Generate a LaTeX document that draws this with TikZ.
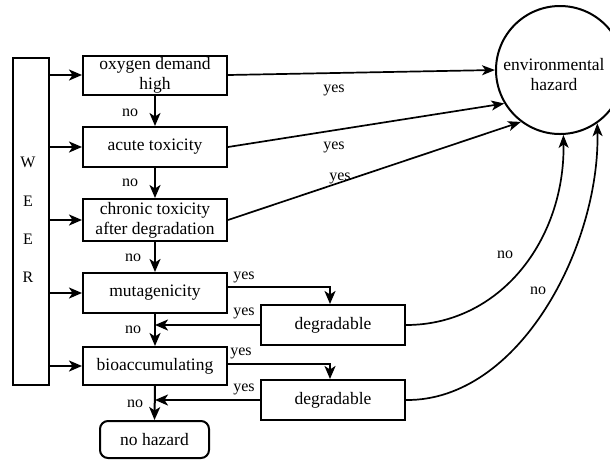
\documentclass[tikz,border=0pt]{standalone}
\usepackage{fontspec}
\setmainfont{Liberation Serif}
\usetikzlibrary{arrows.meta}
\begin{document}
\begin{tikzpicture}[x=1pt,y=-1pt,
  font=\fontsize{17.5}{20}\selectfont,
  line width=2pt,
  stepbox/.style={draw, minimum width=144pt, minimum height=40pt, align=center, inner sep=0pt},
  lbl/.style={font=\fontsize{16}{18}\selectfont, inner sep=0pt},
  letter/.style={font=\fontsize{16}{18}\selectfont, inner sep=0pt},
  arr/.style={-{Stealth[length=13pt,width=11pt,inset=3.5pt]}},
  thinarr/.style={line width=1.7pt,-{Stealth[length=13pt,width=10pt,inset=3.5pt]}}]
\useasboundingbox (0,0) rectangle (610,459);
\clip (0,0) rectangle (610,459);

% input column
\node[draw, minimum width=36pt, minimum height=327pt, inner sep=0pt] (weer) at (31,221.5) {};
\node[letter] (lw) at (28,162) {W};
\node[letter] (le1) at (28,201) {E};
\node[letter] (le2) at (28,239) {E};
\node[letter] (lr) at (28,277) {R};

% test boxes
\node[stepbox, minimum height=39pt] (b1) at (155,75) {oxygen demand\\high};
\node[stepbox] (b2) at (155,147) {acute toxicity};
\node[stepbox, minimum height=42pt] (b3) at (155,220) {chronic toxicity\\after degradation};
\node[stepbox] (b4) at (155,293) {mutagenicity};
\node[stepbox, minimum height=38pt] (b5) at (155,366) {bioaccumulating};
\node[stepbox] (d1) at (333,325) {degradable};
\node[stepbox] (d2) at (333,400) {degradable};
\node[draw, rounded corners=8pt, minimum width=109pt, minimum height=37pt, inner sep=0pt] (nh) at (154.5,439.5) {no hazard};

% hazard circle
\node[draw, circle, minimum size=128pt, inner sep=0pt] (hz) at (560,70) {};
\node[align=center, inner sep=0pt] (hzt) at (554,75) {environmental\\hazard};

% inputs into each test
\foreach \b in {b1,b2,b3,b4,b5}
  \draw[arr] (weer.east |- \b.west) -- (\b.west);

% "no" chain
\draw[arr] (b1.south) -- (b2.north);
\draw[arr] (b2.south) -- (b3.north);
\draw[arr] (b3.south) -- (b4.north);
\draw[arr] (b4.south) -- (b5.north);
\draw[arr] (b5.south) -- (nh.north);
\node[lbl] (n1) at (130,113) {no};
\node[lbl] (n2) at (130,183) {no};
\node[lbl] (n3) at (133,258) {no};
\node[lbl] (n4) at (133,330) {no};
\node[lbl] (n5) at (135,404) {no};

% direct hazards
\draw[thinarr] (b1.east) -- (hz.180);
\draw[thinarr] (b2.east) -- (hz.211);
\draw[thinarr] (b3.east) -- (hz.233);
\node[lbl] (y1) at (334,90) {yes};
\node[lbl] (y2) at (334,147) {yes};
\node[lbl] (y3) at (340,178) {yes};

% degradability checks
\draw[arr] ([yshift=6pt]b4.east) -| ([xshift=-3pt]d1.north);
\draw[arr] (d1.west) -- (d1.west -| b4.south);
\draw[arr] ([yshift=2pt]b5.east) -| ([xshift=-3pt]d2.north);
\draw[arr] (d2.west) -- (d2.west -| b5.south);
\node[lbl] (y4) at (244,277) {yes};
\node[lbl] (y5) at (244,313) {yes};
\node[lbl] (y6) at (241,353) {yes};
\node[lbl] (y7) at (244,389) {yes};

% not degradable
\draw[thinarr] (d1.east) .. controls (500,325) and (565,240) .. (hz.273);
\draw[thinarr] (d2.east) .. controls (520,401) and (600,245) .. (hz.305);
\node[lbl] (n6) at (505,255) {no};
\node[lbl] (n7) at (538,291) {no};
\end{tikzpicture}
\end{document}
